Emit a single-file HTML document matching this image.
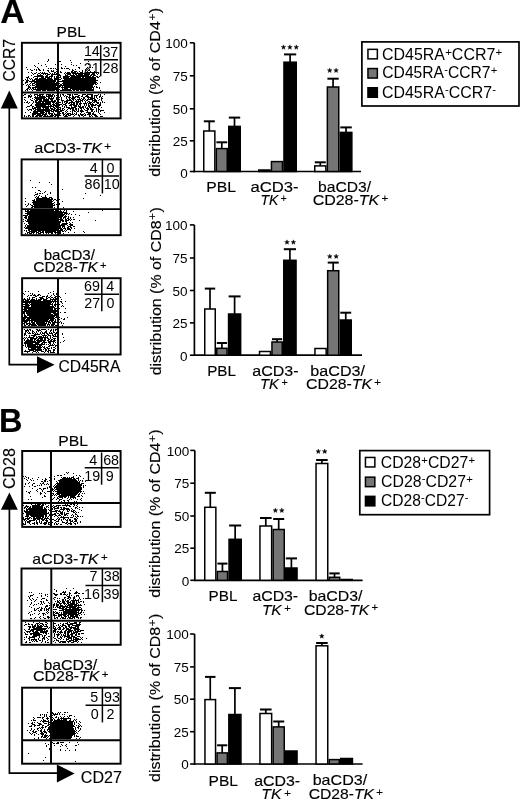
<!DOCTYPE html>
<html><head><meta charset="utf-8"><style>
html,body{margin:0;padding:0;background:#fff;width:520px;height:800px;overflow:hidden}
svg{display:block;filter:grayscale(1)}
text{font-family:"Liberation Sans", sans-serif;fill:#000;stroke:#000;stroke-width:0.15px}
.ns{stroke-width:0}
.d{stroke:#000;stroke-width:1px;fill:none;shape-rendering:crispEdges;transform:translateY(0.5px)}
</style></head><body>
<svg width="520" height="800" viewBox="0 0 520 800">
<defs><filter id="bl" x="-5%" y="-5%" width="110%" height="110%"><feGaussianBlur stdDeviation="0.45"/></filter></defs>
<text x="0.3" y="22.9" font-size="34" text-anchor="start" font-weight="bold" >A</text>
<text x="-1.0" y="431.6" font-size="32.5" text-anchor="start" font-weight="bold" >B</text>
<path class="d" filter="url(#bl)" d="M48 59h1M48 60h1M70 60h1M47 61h1M59 61h2M88 61h1M71 62h1M38 63h1M80 63h1M45 64h1M55 64h1M61 64h1M71 64h1M88 64h1M34 65h1M41 65h1M73 65h1M76 65h1M35 66h1M46 66h1M65 66h1M26 67h1M37 67h1M61 67h1M78 67h2M87 67h1M90 67h1M92 67h1M38 68h1M48 68h1M50 68h2M53 68h1M55 68h1M61 68h2M64 68h1M66 68h3M79 68h1M86 68h1M27 69h1M30 69h1M34 69h1M36 69h1M38 69h2M43 69h1M56 69h1M69 69h1M72 69h1M75 69h1M85 69h1M89 69h1M31 70h2M36 70h1M39 70h2M43 70h1M47 70h2M51 70h1M53 70h1M72 70h2M82 70h1M85 70h1M88 70h2M48 71h1M51 71h3M56 71h1M60 71h1M71 71h2M74 71h3M79 71h1M82 71h1M87 71h1M90 71h1M94 71h1M28 72h1M31 72h1M36 72h1M40 72h1M42 72h1M44 72h1M49 72h1M54 72h2M60 72h2M65 72h1M67 72h3M71 72h5M77 72h1M80 72h3M87 72h7M32 73h1M34 73h2M38 73h2M41 73h7M50 73h1M52 73h1M54 73h1M56 73h1M64 73h1M66 73h5M72 73h18M92 73h3M96 73h1M98 73h1M33 74h1M37 74h1M40 74h1M43 74h1M45 74h1M47 74h3M51 74h6M59 74h1M65 74h1M67 74h4M73 74h1M75 74h2M78 74h5M84 74h6M91 74h4M97 74h1M31 75h1M37 75h6M46 75h2M51 75h2M59 75h2M65 75h3M70 75h5M76 75h13M90 75h2M93 75h3M28 76h1M34 76h10M45 76h3M49 76h4M54 76h1M56 76h1M60 76h1M63 76h7M71 76h20M92 76h2M96 76h2M99 76h1M26 77h3M33 77h1M37 77h1M41 77h3M45 77h5M51 77h1M54 77h1M56 77h1M59 77h2M63 77h6M70 77h11M82 77h2M85 77h11M97 77h2M27 78h1M29 78h1M31 78h1M35 78h3M39 78h7M47 78h5M54 78h3M61 78h1M63 78h33M25 79h1M27 79h1M30 79h1M32 79h1M34 79h19M54 79h3M59 79h2M64 79h32M23 80h1M26 80h3M32 80h3M36 80h20M62 80h36M26 81h2M29 81h27M59 81h37M25 82h3M31 82h1M34 82h21M56 82h1M63 82h34M100 82h1M25 83h1M30 83h1M32 83h3M36 83h21M59 83h1M62 83h34M97 83h1M23 84h1M27 84h1M29 84h1M32 84h1M35 84h22M60 84h2M63 84h31M95 84h2M26 85h1M28 85h1M30 85h1M32 85h3M36 85h21M59 85h34M28 86h2M35 86h21M59 86h2M62 86h1M64 86h29M94 86h1M96 86h1M28 87h3M32 87h25M59 87h1M61 87h33M96 87h2M99 87h1M27 88h2M30 88h1M32 88h2M35 88h1M37 88h20M62 88h1M64 88h4M70 88h22M93 88h1M99 88h1M26 89h2M29 89h1M31 89h1M33 89h24M59 89h1M62 89h9M72 89h22M25 90h1M27 90h1M32 90h1M36 90h5M42 90h4M47 90h8M56 90h1M60 90h12M73 90h2M76 90h3M80 90h5M86 90h8M100 90h1M24 94h2M30 94h1M34 94h4M39 94h5M46 94h5M52 94h2M60 94h1M62 94h2M67 94h4M72 94h1M74 94h4M82 94h4M87 94h6M98 94h1M100 94h1M104 94h1M23 95h1M28 95h2M31 95h1M34 95h1M37 95h4M42 95h1M46 95h1M48 95h5M54 95h1M56 95h1M60 95h1M63 95h1M65 95h1M69 95h2M72 95h1M78 95h2M82 95h1M86 95h2M91 95h2M94 95h4M100 95h1M28 96h4M35 96h1M37 96h1M39 96h6M46 96h7M54 96h1M60 96h1M64 96h1M66 96h2M69 96h1M72 96h2M75 96h4M81 96h2M85 96h4M91 96h2M94 96h1M96 96h1M99 96h2M102 96h1M24 97h2M28 97h1M30 97h1M34 97h12M48 97h2M51 97h1M53 97h1M56 97h1M59 97h1M61 97h1M66 97h1M68 97h3M72 97h4M77 97h3M83 97h2M87 97h6M94 97h1M96 97h1M99 97h1M101 97h1M32 98h1M35 98h10M46 98h1M48 98h6M56 98h1M61 98h1M66 98h1M69 98h1M71 98h4M79 98h1M81 98h1M83 98h2M88 98h1M90 98h5M97 98h1M101 98h2M24 99h1M30 99h1M34 99h1M36 99h6M43 99h6M50 99h3M56 99h1M59 99h1M61 99h1M67 99h1M69 99h2M72 99h2M75 99h1M77 99h4M82 99h2M85 99h1M87 99h6M94 99h2M99 99h1M101 99h1M25 100h1M31 100h2M35 100h3M39 100h3M43 100h6M51 100h2M54 100h2M61 100h3M66 100h6M73 100h1M76 100h1M78 100h1M80 100h3M84 100h1M86 100h2M92 100h5M98 100h1M101 100h1M27 101h1M33 101h1M35 101h2M38 101h18M62 101h1M64 101h4M71 101h2M75 101h6M82 101h1M85 101h1M88 101h2M92 101h1M94 101h3M102 101h1M24 102h1M26 102h2M29 102h1M33 102h1M35 102h6M42 102h2M45 102h6M52 102h3M56 102h1M59 102h2M62 102h1M64 102h1M66 102h2M69 102h6M76 102h3M80 102h1M85 102h1M87 102h1M89 102h3M93 102h2M96 102h3M100 102h1M102 102h1M104 102h1M28 103h1M32 103h1M36 103h15M53 103h1M55 103h2M62 103h1M65 103h2M68 103h2M71 103h1M73 103h2M76 103h2M79 103h3M83 103h4M88 103h3M92 103h1M97 103h2M100 103h1M31 104h1M35 104h16M52 104h3M56 104h1M59 104h3M63 104h3M70 104h5M76 104h2M79 104h2M84 104h1M86 104h1M88 104h1M90 104h4M95 104h2M99 104h2M30 105h2M35 105h11M48 105h1M50 105h2M53 105h4M59 105h1M62 105h1M65 105h2M69 105h3M73 105h4M78 105h1M80 105h1M84 105h1M86 105h1M88 105h2M91 105h5M97 105h4M27 106h3M32 106h2M36 106h18M55 106h2M62 106h1M64 106h1M66 106h1M71 106h1M74 106h3M78 106h3M82 106h2M85 106h1M88 106h2M91 106h2M98 106h2M26 107h1M32 107h1M34 107h7M42 107h7M50 107h1M53 107h2M56 107h1M59 107h2M64 107h1M66 107h4M71 107h5M79 107h5M85 107h1M87 107h1M89 107h2M92 107h1M94 107h2M98 107h1M101 107h1M32 108h4M37 108h4M43 108h1M45 108h4M50 108h3M54 108h2M60 108h1M62 108h2M68 108h6M75 108h2M78 108h1M80 108h2M83 108h1M86 108h3M90 108h2M96 108h1M98 108h1M27 109h1M29 109h3M33 109h1M35 109h15M51 109h4M56 109h1M59 109h2M62 109h1M64 109h1M67 109h1M70 109h1M72 109h2M75 109h2M78 109h1M81 109h1M84 109h1M87 109h2M90 109h4M96 109h1M98 109h2M28 110h1M31 110h1M34 110h2M37 110h15M53 110h4M60 110h4M66 110h1M72 110h3M76 110h1M78 110h1M80 110h3M85 110h3M91 110h2M96 110h1M98 110h1M100 110h4M33 111h11M45 111h5M51 111h3M55 111h2M59 111h3M65 111h1M67 111h1M70 111h1M72 111h1M74 111h2M77 111h2M80 111h4M87 111h1M91 111h2M94 111h1M96 111h1M98 111h1M100 111h1M25 112h1M30 112h1M33 112h5M40 112h5M46 112h1M48 112h2M53 112h1M59 112h1M62 112h2M66 112h1M72 112h1M76 112h1M81 112h1M86 112h5M93 112h1M98 112h1M104 112h1M32 113h12M45 113h2M48 113h5M54 113h1M59 113h2M62 113h2M65 113h1M67 113h4M72 113h1M74 113h1M76 113h1M80 113h1M84 113h1M88 113h3M92 113h2M99 113h1M32 114h4M37 114h4M42 114h5M49 114h1M51 114h2M54 114h3M59 114h1M63 114h2M66 114h3M70 114h4M75 114h2M78 114h1M80 114h4M85 114h1M87 114h4M92 114h4M100 114h1M24 115h1M28 115h2M32 115h2M36 115h7M44 115h2M47 115h1M50 115h4M55 115h2M59 115h2M63 115h1M65 115h2M68 115h3M74 115h1M78 115h2M81 115h2M84 115h2M89 115h1M91 115h1M94 115h3M24 116h1M26 116h1M28 116h1M30 116h1M32 116h2M35 116h3M39 116h3M43 116h10M54 116h2M64 116h4M73 116h1M79 116h1M83 116h1M89 116h2M92 116h1M95 116h3M100 116h3"/>
<rect x="21.9" y="42.8" width="98.70" height="75.60" fill="none" stroke="#000" stroke-width="1.95"/>
<line x1="58" y1="42.8" x2="58" y2="118.4" stroke="#000" stroke-width="1.95"/>
<line x1="21.9" y1="92.4" x2="120.6" y2="92.4" stroke="#000" stroke-width="1.95"/>
<line x1="100.7" y1="45" x2="100.7" y2="76.3" stroke="#000" stroke-width="1.5"/>
<line x1="84" y1="59.8" x2="118" y2="59.8" stroke="#000" stroke-width="1.5"/>
<path class="d" filter="url(#bl)" d="M30 180h1M39 182h1M49 182h1M51 184h1M32 187h1M35 187h1M62 189h1M38 190h2M40 191h1M45 191h1M35 192h1M44 192h1M50 192h1M37 193h1M39 193h2M42 193h1M50 193h1M85 193h1M35 194h3M47 194h1M34 195h1M39 195h1M45 195h1M100 195h1M36 196h1M38 196h1M41 196h1M45 196h1M35 197h1M37 197h2M42 197h5M49 197h3M25 198h1M36 198h14M51 198h2M83 198h1M34 199h1M36 199h17M54 199h2M59 199h1M32 200h3M36 200h16M53 200h1M56 200h1M25 201h1M33 201h20M62 201h1M32 202h20M54 202h1M28 203h1M33 203h21M59 203h1M25 204h1M28 204h1M30 204h1M33 204h20M54 204h1M56 204h1M59 204h1M27 205h1M31 205h2M34 205h21M26 206h1M32 206h21M31 207h2M34 207h19M54 207h1M63 207h1M25 210h1M27 210h2M30 210h24M55 210h2M60 210h1M64 210h1M66 210h1M102 210h1M25 211h32M59 211h3M63 211h1M66 211h1M73 211h1M27 212h30M59 212h8M88 212h1M25 213h32M59 213h4M64 213h4M69 213h1M27 214h30M59 214h6M66 214h1M68 214h1M71 214h1M75 214h1M23 215h5M29 215h28M59 215h5M65 215h1M79 215h1M25 216h2M28 216h29M59 216h4M64 216h3M68 216h1M24 217h3M28 217h29M59 217h3M63 217h3M68 217h1M70 217h1M73 217h1M25 218h2M28 218h29M60 218h2M63 218h1M65 218h1M67 218h2M70 218h1M23 219h1M27 219h30M59 219h4M65 219h2M68 219h2M71 219h1M73 219h2M25 220h1M27 220h30M60 220h4M65 220h4M70 220h1M79 220h1M95 220h1M23 221h1M26 221h31M59 221h2M62 221h2M65 221h2M28 222h29M59 222h2M66 222h1M69 222h1M72 222h1M24 223h1M28 223h29M59 223h1M62 223h6M70 223h1M26 224h1M29 224h28M59 224h1M61 224h6M69 224h4M25 225h1M27 225h30M59 225h6M67 225h1M70 225h3M25 226h1M27 226h30M59 226h2M62 226h3M68 226h3M73 226h2M24 227h1M26 227h31M59 227h2M62 227h1M64 227h1M67 227h2M70 227h2M25 228h32M59 228h3M63 228h3M67 228h3M71 228h1M74 228h1M28 229h29M60 229h3M65 229h1M67 229h4M24 230h1M26 230h1M28 230h2M31 230h26M59 230h4M64 230h1M66 230h1M70 230h1M26 231h1M29 231h8M38 231h3M42 231h2M45 231h11M59 231h2M62 231h2M65 231h1M83 231h1M27 232h3M31 232h4M36 232h3M40 232h4M45 232h8M54 232h3M59 232h2M68 232h1M74 232h1M84 232h1M25 233h1M27 233h1M29 233h3M33 233h1M36 233h1M38 233h3M43 233h1M46 233h1M48 233h1M51 233h2M55 233h1M59 233h2M63 233h1"/>
<rect x="21.6" y="159.4" width="99.10" height="75.80" fill="none" stroke="#000" stroke-width="1.95"/>
<line x1="58" y1="159.4" x2="58" y2="235.2" stroke="#000" stroke-width="1.95"/>
<line x1="21.6" y1="209.1" x2="120.7" y2="209.1" stroke="#000" stroke-width="1.95"/>
<line x1="102.4" y1="160" x2="102.4" y2="193.4" stroke="#000" stroke-width="1.5"/>
<line x1="84.6" y1="176" x2="119" y2="176" stroke="#000" stroke-width="1.5"/>
<path class="d" filter="url(#bl)" d="M25 291h1M28 291h1M38 291h1M53 291h1M50 292h1M23 293h1M30 293h1M32 293h1M48 293h1M53 293h1M56 293h1M65 293h1M24 294h1M32 294h1M34 294h1M38 294h2M53 294h1M56 294h1M28 295h1M30 295h2M33 295h3M37 295h2M40 295h1M47 295h1M51 295h1M54 295h1M27 296h1M35 296h2M42 296h3M46 296h2M50 296h1M55 296h2M59 296h1M29 297h1M32 297h3M39 297h4M46 297h1M48 297h2M51 297h2M54 297h2M60 297h1M24 298h1M27 298h1M29 298h1M32 298h1M36 298h1M40 298h4M46 298h2M50 298h1M53 298h1M55 298h2M23 299h3M27 299h3M31 299h4M36 299h1M38 299h4M43 299h4M50 299h7M61 299h1M23 300h1M25 300h4M30 300h11M43 300h8M52 300h1M54 300h2M23 301h34M60 301h2M65 301h1M23 302h29M53 302h1M55 302h1M61 302h1M25 303h3M29 303h1M31 303h20M52 303h1M55 303h1M62 303h1M23 304h6M30 304h23M54 304h3M59 304h1M25 305h5M31 305h19M52 305h1M54 305h2M62 305h1M23 306h6M31 306h23M55 306h1M61 306h1M63 306h1M24 307h31M24 308h29M54 308h3M59 308h1M65 308h1M23 309h4M28 309h25M54 309h2M24 310h33M23 311h34M23 312h2M26 312h30M60 312h1M64 312h2M23 313h2M26 313h25M53 313h4M24 314h1M27 314h26M54 314h3M24 315h2M27 315h30M24 316h3M29 316h26M56 316h1M23 317h31M55 317h2M59 317h1M67 317h1M23 318h3M27 318h28M61 318h1M64 318h1M23 319h2M26 319h4M31 319h18M50 319h4M55 319h1M59 319h1M63 319h2M23 320h25M49 320h5M55 320h1M23 321h5M29 321h1M31 321h2M34 321h16M51 321h2M54 321h2M60 321h1M24 322h3M29 322h1M31 322h4M36 322h9M46 322h1M48 322h3M52 322h5M59 322h1M61 322h1M23 323h2M26 323h5M32 323h3M36 323h11M48 323h1M50 323h1M52 323h3M61 323h1M63 323h1M24 324h1M26 324h2M29 324h7M37 324h9M47 324h3M51 324h4M24 325h2M28 325h2M31 325h6M38 325h8M47 325h1M49 325h1M51 325h3M55 325h2M62 325h1M24 329h1M27 329h1M29 329h2M36 329h2M39 329h1M41 329h5M48 329h1M51 329h1M53 329h1M55 329h2M25 330h4M30 330h1M32 330h1M37 330h4M46 330h1M50 330h2M53 330h1M55 330h1M25 331h2M28 331h1M32 331h2M36 331h1M38 331h1M41 331h1M45 331h2M50 331h1M53 331h1M25 332h1M27 332h1M29 332h1M32 332h1M34 332h1M36 332h1M40 332h1M42 332h1M44 332h3M49 332h1M51 332h1M53 332h2M56 332h1M24 333h2M28 333h3M32 333h2M35 333h1M37 333h1M40 333h1M42 333h3M46 333h2M49 333h4M55 333h2M62 333h1M24 334h2M34 334h6M41 334h1M44 334h1M47 334h2M52 334h1M54 334h2M62 334h1M24 335h1M26 335h1M29 335h1M31 335h5M42 335h5M48 335h3M52 335h2M55 335h1M29 336h1M33 336h2M36 336h1M38 336h4M43 336h1M45 336h1M47 336h1M50 336h1M53 336h4M24 337h1M26 337h1M28 337h6M36 337h2M39 337h9M50 337h1M52 337h1M63 337h1M23 338h1M25 338h1M27 338h1M30 338h7M38 338h5M44 338h2M47 338h2M50 338h1M53 338h3M24 339h1M27 339h2M30 339h3M34 339h2M37 339h2M40 339h3M44 339h2M48 339h2M51 339h2M54 339h1M24 340h1M26 340h7M34 340h1M36 340h10M47 340h2M50 340h2M53 340h3M64 340h1M25 341h11M37 341h5M43 341h2M48 341h7M63 341h1M24 342h16M42 342h5M48 342h3M53 342h1M55 342h1M60 342h1M24 343h9M35 343h4M41 343h2M44 343h1M49 343h2M53 343h1M25 344h1M27 344h18M46 344h1M48 344h1M50 344h1M52 344h1M54 344h1M23 345h1M25 345h1M27 345h9M37 345h1M39 345h3M49 345h5M55 345h2M25 346h1M27 346h14M42 346h1M44 346h1M48 346h2M55 346h1M26 347h1M28 347h14M43 347h2M46 347h2M51 347h1M53 347h2M28 348h1M31 348h5M37 348h4M44 348h2M47 348h3M51 348h1M55 348h1M28 349h14M43 349h1M45 349h2M48 349h1M53 349h2M25 350h1M29 350h5M35 350h7M45 350h2M48 350h3M53 350h2M24 351h6M33 351h3M37 351h1M41 351h3M45 351h1M47 351h2M50 351h1M53 351h1M27 352h1M32 352h1M36 352h1M38 352h1M44 352h1M48 352h1M50 352h5"/>
<rect x="22.1" y="278.2" width="98.50" height="76.30" fill="none" stroke="#000" stroke-width="1.95"/>
<line x1="58" y1="278.2" x2="58" y2="354.5" stroke="#000" stroke-width="1.95"/>
<line x1="22.1" y1="327.2" x2="120.6" y2="327.2" stroke="#000" stroke-width="1.95"/>
<line x1="101.8" y1="279" x2="101.8" y2="311.3" stroke="#000" stroke-width="1.5"/>
<line x1="84.6" y1="294.2" x2="119" y2="294.2" stroke="#000" stroke-width="1.5"/>
<path d="M9.3 108V364.7H38" fill="none" stroke="#000" stroke-width="1.7"/>
<path d="M0.8 108.6L9.3 90.4L17.8 108.6Z" fill="#000"/>
<path d="M37 356.2L54.6 364.7L37 373.3Z" fill="#000"/>
<path class="d" filter="url(#bl)" d="M66 472h1M68 472h1M67 473h1M73 473h1M64 474h1M57 475h2M60 475h2M76 475h1M79 475h1M23 476h1M25 476h1M54 476h1M73 476h1M80 476h1M26 477h1M28 477h1M38 477h1M49 477h1M61 477h1M63 477h3M67 477h1M69 477h1M71 477h3M78 477h1M24 478h1M28 478h1M32 478h1M45 478h1M54 478h1M62 478h10M73 478h2M76 478h3M83 478h1M26 479h1M30 479h1M37 479h1M42 479h1M45 479h2M54 479h1M60 479h16M78 479h1M27 480h1M31 480h1M33 480h1M44 480h2M49 480h1M58 480h19M78 480h1M80 480h1M82 480h1M41 481h2M44 481h2M47 481h1M56 481h1M59 481h19M79 481h1M82 481h1M85 481h1M29 482h1M43 482h1M57 482h1M59 482h21M25 483h1M28 483h1M33 483h2M40 483h1M42 483h2M47 483h1M56 483h24M81 483h3M25 484h1M32 484h1M41 484h1M44 484h1M46 484h1M48 484h1M55 484h1M57 484h25M32 485h1M37 485h1M39 485h1M41 485h1M54 485h1M56 485h26M83 485h1M85 485h1M24 486h1M29 486h1M34 486h2M49 486h1M53 486h1M55 486h26M83 486h1M47 487h1M49 487h1M54 487h28M83 487h1M32 488h1M39 488h2M43 488h3M47 488h1M52 488h1M54 488h1M56 488h26M37 489h1M41 489h1M43 489h1M52 489h2M55 489h27M36 490h1M42 490h1M52 490h1M54 490h1M57 490h24M26 491h1M30 491h1M37 491h1M42 491h1M47 491h3M53 491h1M55 491h27M83 491h1M28 492h2M40 492h1M44 492h1M57 492h22M80 492h1M29 493h1M40 493h2M45 493h1M52 493h2M56 493h22M79 493h1M82 493h1M84 493h1M40 494h1M53 494h1M55 494h1M57 494h3M61 494h16M78 494h2M44 495h1M52 495h1M54 495h1M56 495h1M59 495h17M78 495h1M81 495h1M30 496h1M44 496h2M58 496h9M68 496h1M70 496h5M77 496h3M82 496h1M42 497h1M54 497h1M57 497h1M59 497h4M64 497h2M68 497h1M70 497h6M53 498h1M57 498h2M62 498h1M67 498h1M70 498h1M73 498h1M75 498h1M81 498h1M28 499h1M31 499h1M52 499h1M56 499h1M59 499h3M69 499h1M71 499h1M77 499h1M80 499h1M59 500h1M63 500h2M67 500h2M81 500h1M58 501h1M61 501h1M64 501h1M68 501h1M74 501h1M76 501h1M31 504h1M35 504h1M37 504h4M42 504h2M45 504h1M65 504h1M67 504h1M70 504h2M73 504h2M77 504h1M23 505h1M26 505h1M32 505h8M41 505h3M48 505h1M53 505h1M56 505h5M62 505h8M74 505h1M76 505h1M25 506h4M30 506h1M32 506h11M46 506h2M52 506h1M54 506h3M58 506h1M66 506h1M69 506h2M73 506h1M77 506h1M24 507h2M27 507h1M29 507h2M32 507h11M44 507h1M46 507h1M48 507h1M53 507h2M57 507h2M60 507h2M63 507h2M75 507h2M79 507h1M82 507h1M24 508h1M26 508h1M28 508h15M44 508h2M52 508h1M54 508h5M61 508h1M63 508h6M71 508h1M75 508h1M77 508h1M26 509h21M48 509h1M52 509h1M54 509h1M60 509h5M66 509h4M72 509h1M79 509h1M24 510h1M26 510h2M29 510h18M49 510h1M55 510h3M59 510h1M63 510h1M67 510h1M69 510h1M71 510h1M73 510h2M81 510h1M24 511h23M52 511h5M58 511h3M62 511h1M67 511h2M71 511h3M75 511h1M25 512h22M48 512h1M56 512h1M60 512h3M64 512h1M73 512h2M76 512h1M78 512h1M23 513h1M26 513h23M54 513h2M57 513h2M60 513h3M64 513h1M66 513h3M75 513h1M26 514h21M49 514h1M52 514h4M59 514h1M61 514h2M64 514h3M72 514h1M75 514h2M26 515h3M30 515h14M45 515h2M49 515h1M52 515h1M55 515h2M58 515h3M64 515h2M67 515h1M71 515h1M73 515h1M77 515h1M25 516h4M31 516h13M45 516h2M48 516h1M54 516h1M57 516h1M61 516h1M63 516h1M73 516h1M75 516h1M77 516h2M80 516h1M82 516h1M23 517h1M27 517h1M29 517h2M33 517h2M36 517h5M42 517h2M45 517h1M47 517h1M58 517h1M60 517h9M70 517h3M76 517h1M23 518h1M25 518h5M31 518h1M33 518h10M44 518h5M57 518h1M59 518h1M63 518h2M68 518h1M74 518h2M77 518h1M23 519h3M27 519h2M33 519h3M37 519h3M41 519h4M46 519h1M49 519h1M52 519h2M56 519h1M58 519h2M61 519h1M63 519h1M65 519h1M67 519h1M69 519h2M74 519h3M24 520h1M26 520h1M29 520h6M36 520h1M39 520h1M42 520h2M45 520h3M54 520h2M58 520h1M61 520h1M66 520h2M69 520h2M72 520h1M75 520h2M25 521h1M27 521h4M36 521h1M39 521h1M41 521h1M46 521h2M56 521h3M62 521h1M67 521h1M70 521h3M74 521h3M80 521h1M25 522h1M27 522h3M34 522h1M36 522h2M39 522h1M41 522h1M44 522h3M48 522h2M52 522h1M55 522h1M62 522h3M66 522h2M70 522h1M73 522h1M77 522h1M80 522h1M23 523h1M25 523h1M29 523h1M32 523h3M36 523h2M40 523h2M43 523h4M48 523h1M54 523h1M56 523h1M58 523h1M65 523h2M68 523h4M74 523h2M77 523h1M23 524h3M30 524h1M34 524h1M37 524h1M44 524h2M48 524h2M54 524h1M56 524h2M60 524h2M67 524h1M70 524h2M75 524h1"/>
<rect x="22.2" y="451.0" width="98.40" height="75.90" fill="none" stroke="#000" stroke-width="1.95"/>
<line x1="51" y1="451.0" x2="51" y2="526.9" stroke="#000" stroke-width="1.95"/>
<line x1="22.2" y1="503" x2="120.6" y2="503" stroke="#000" stroke-width="1.95"/>
<line x1="101.6" y1="452.5" x2="101.6" y2="484.7" stroke="#000" stroke-width="1.5"/>
<line x1="84.7" y1="467.8" x2="118.9" y2="467.8" stroke="#000" stroke-width="1.5"/>
<path class="d" filter="url(#bl)" d="M66 588h1M73 588h1M54 589h1M56 590h1M70 590h1M56 591h1M63 591h1M65 591h1M76 591h1M29 592h1M31 592h1M62 592h4M69 592h1M75 592h3M39 593h1M41 593h1M53 593h2M60 593h2M64 593h1M69 593h2M74 593h3M78 593h2M82 593h2M33 594h1M45 594h1M47 594h1M54 594h4M60 594h2M63 594h3M67 594h1M69 594h1M30 595h3M41 595h1M45 595h1M55 595h2M66 595h1M69 595h1M71 595h1M76 595h3M28 596h1M30 596h1M41 596h1M47 596h1M67 596h3M74 596h1M76 596h1M78 596h1M29 597h1M37 597h1M54 597h2M64 597h2M68 597h3M73 597h2M79 597h1M29 598h1M32 598h1M42 598h3M53 598h1M57 598h1M59 598h1M64 598h1M67 598h2M70 598h1M73 598h2M79 598h1M83 598h1M30 599h1M33 599h1M36 599h1M41 599h1M46 599h1M54 599h1M62 599h2M65 599h1M69 599h1M73 599h1M75 599h1M78 599h1M80 599h1M27 600h1M31 600h1M35 600h1M46 600h2M57 600h1M59 600h1M62 600h2M65 600h1M67 600h2M71 600h8M34 601h1M40 601h2M43 601h1M55 601h1M57 601h2M60 601h1M62 601h3M66 601h3M70 601h1M72 601h3M76 601h1M78 601h1M80 601h2M83 601h1M31 602h1M41 602h1M43 602h1M48 602h1M57 602h3M62 602h3M67 602h4M72 602h3M76 602h1M78 602h2M83 602h1M31 603h1M38 603h1M41 603h1M44 603h1M49 603h1M54 603h1M56 603h1M59 603h3M63 603h3M67 603h2M70 603h5M76 603h2M30 604h1M34 604h1M36 604h1M40 604h1M42 604h1M53 604h2M56 604h3M60 604h1M64 604h1M66 604h1M68 604h9M78 604h1M80 604h1M84 604h1M33 605h1M46 605h2M49 605h1M53 605h2M56 605h3M60 605h3M65 605h1M67 605h6M74 605h8M29 606h1M45 606h3M53 606h1M56 606h2M59 606h9M69 606h8M78 606h1M31 607h1M39 607h1M41 607h1M45 607h1M49 607h1M53 607h1M55 607h1M57 607h4M62 607h3M66 607h10M77 607h4M34 608h1M37 608h2M41 608h2M44 608h1M46 608h1M48 608h2M59 608h5M65 608h2M69 608h2M72 608h7M81 608h1M34 609h1M36 609h1M40 609h2M44 609h1M46 609h3M53 609h4M62 609h20M34 610h2M38 610h1M40 610h2M44 610h1M46 610h1M48 610h1M59 610h5M65 610h15M81 610h2M84 610h1M31 611h1M39 611h1M47 611h1M53 611h1M55 611h1M63 611h14M78 611h1M81 611h1M29 612h1M46 612h1M48 612h1M53 612h2M56 612h2M59 612h1M61 612h1M63 612h16M80 612h2M83 612h1M28 613h1M34 613h1M39 613h1M42 613h3M47 613h1M53 613h1M55 613h4M61 613h1M63 613h14M78 613h3M30 614h1M32 614h1M38 614h1M43 614h1M45 614h1M53 614h2M58 614h9M68 614h11M81 614h1M84 614h1M30 615h1M43 615h1M53 615h4M58 615h4M63 615h3M67 615h2M70 615h4M75 615h3M79 615h1M40 616h1M47 616h2M54 616h1M58 616h2M61 616h1M64 616h3M68 616h1M70 616h8M35 617h1M39 617h1M43 617h1M47 617h3M54 617h1M56 617h2M61 617h3M65 617h1M68 617h3M72 617h3M76 617h3M80 617h2M30 618h2M34 618h1M40 618h1M44 618h2M48 618h1M54 618h2M57 618h1M60 618h1M62 618h4M67 618h1M69 618h4M74 618h1M78 618h1M80 618h1M25 622h1M33 622h1M39 622h1M45 622h2M53 622h1M67 622h1M69 622h1M74 622h3M79 622h2M28 623h1M36 623h3M40 623h3M47 623h1M53 623h3M60 623h1M63 623h1M65 623h3M70 623h7M79 623h1M25 624h2M28 624h2M31 624h2M35 624h1M37 624h1M39 624h1M42 624h2M45 624h2M53 624h1M58 624h1M62 624h2M67 624h6M76 624h5M24 625h1M32 625h1M34 625h2M37 625h2M40 625h2M43 625h1M46 625h1M53 625h1M56 625h1M58 625h1M60 625h1M62 625h4M68 625h2M72 625h8M28 626h3M32 626h4M37 626h6M44 626h4M53 626h2M59 626h1M61 626h2M65 626h2M68 626h2M71 626h1M75 626h4M29 627h2M32 627h3M36 627h6M47 627h1M49 627h1M53 627h1M55 627h1M58 627h3M63 627h1M65 627h2M69 627h7M77 627h2M29 628h1M33 628h14M48 628h1M53 628h3M57 628h1M59 628h2M63 628h2M66 628h3M70 628h2M73 628h6M24 629h1M28 629h2M31 629h15M54 629h3M58 629h3M62 629h2M66 629h5M74 629h6M25 630h1M30 630h4M36 630h7M44 630h1M46 630h2M53 630h3M61 630h1M65 630h2M68 630h5M74 630h2M77 630h2M80 630h4M26 631h5M32 631h2M35 631h3M40 631h8M53 631h3M57 631h2M60 631h2M64 631h2M67 631h5M73 631h1M75 631h6M24 632h1M27 632h1M29 632h1M33 632h6M40 632h7M53 632h1M55 632h1M57 632h1M59 632h4M64 632h2M67 632h3M71 632h1M73 632h5M25 633h1M30 633h10M43 633h1M45 633h2M48 633h1M54 633h1M58 633h1M60 633h1M64 633h2M67 633h2M71 633h4M76 633h1M78 633h2M81 633h3M25 634h3M30 634h2M33 634h9M46 634h1M54 634h1M56 634h4M61 634h1M63 634h1M65 634h1M67 634h2M70 634h3M75 634h2M78 634h2M33 635h7M42 635h1M44 635h2M54 635h1M57 635h2M61 635h1M63 635h3M67 635h3M71 635h2M75 635h2M26 636h1M29 636h1M32 636h5M39 636h1M42 636h1M44 636h1M48 636h2M54 636h1M57 636h1M60 636h1M62 636h1M64 636h6M71 636h4M77 636h3M24 637h1M26 637h1M29 637h6M39 637h1M43 637h2M46 637h1M53 637h1M57 637h1M60 637h2M64 637h1M67 637h5M73 637h4M80 637h1M82 637h1M28 638h2M34 638h1M38 638h1M42 638h3M47 638h1M54 638h2M58 638h2M61 638h1M66 638h1M68 638h4M73 638h1M75 638h4M81 638h1M86 638h1M24 639h1M29 639h1M31 639h6M38 639h1M42 639h1M44 639h1M48 639h1M56 639h1M60 639h1M63 639h1M66 639h3M71 639h1M73 639h8M82 639h1M29 640h1M31 640h1M33 640h1M35 640h2M39 640h2M42 640h1M47 640h1M54 640h1M56 640h3M66 640h1M69 640h5M75 640h3M26 641h1M32 641h1M34 641h1M36 641h2M42 641h1M45 641h1M53 641h1M58 641h1M60 641h6M67 641h4M73 641h4M78 641h1M25 642h2M29 642h2M41 642h1M45 642h1M47 642h2M55 642h1M59 642h2M62 642h4M68 642h1M71 642h3M77 642h1M81 642h1"/>
<rect x="21.5" y="568.5" width="99.20" height="76.30" fill="none" stroke="#000" stroke-width="1.95"/>
<line x1="51.3" y1="568.5" x2="51.3" y2="644.8" stroke="#000" stroke-width="1.95"/>
<line x1="21.5" y1="620.8" x2="120.7" y2="620.8" stroke="#000" stroke-width="1.95"/>
<line x1="102.4" y1="569" x2="102.4" y2="602.2" stroke="#000" stroke-width="1.5"/>
<line x1="85.5" y1="585.6" x2="119.8" y2="585.6" stroke="#000" stroke-width="1.5"/>
<path class="d" filter="url(#bl)" d="M47 712h1M52 712h1M58 712h1M60 712h1M64 712h2M67 712h1M52 713h2M55 713h1M57 713h1M59 713h1M40 714h1M42 714h1M44 714h1M46 714h1M53 714h5M59 714h1M62 714h1M64 714h1M40 715h1M44 715h1M46 715h1M52 715h1M54 715h1M69 715h3M44 716h1M46 716h1M49 716h1M56 716h1M60 716h1M64 716h1M67 716h1M69 716h1M74 716h1M33 717h1M37 717h4M42 717h2M47 717h1M52 717h1M55 717h2M58 717h1M61 717h1M63 717h1M68 717h1M34 718h1M42 718h1M46 718h3M53 718h1M58 718h1M60 718h11M33 719h1M43 719h1M47 719h1M52 719h1M54 719h1M57 719h3M61 719h1M63 719h4M70 719h1M74 719h1M76 719h1M31 720h1M33 720h3M41 720h1M43 720h3M48 720h1M52 720h1M54 720h13M69 720h2M73 720h1M75 720h1M40 721h1M42 721h7M53 721h21M76 721h1M79 721h1M32 722h1M34 722h1M37 722h1M43 722h1M48 722h2M52 722h21M74 722h1M76 722h1M80 722h1M28 723h1M31 723h2M38 723h3M44 723h3M48 723h1M52 723h21M74 723h1M78 723h1M32 724h3M39 724h3M48 724h2M52 724h21M74 724h1M79 724h1M31 725h1M34 725h2M37 725h3M42 725h2M47 725h2M52 725h22M76 725h1M78 725h1M80 725h1M29 726h3M34 726h1M42 726h1M45 726h2M49 726h1M52 726h23M78 726h2M81 726h1M39 727h1M41 727h3M45 727h1M48 727h2M52 727h21M75 727h1M77 727h2M31 728h1M37 728h2M40 728h1M42 728h1M48 728h2M52 728h22M75 728h1M78 728h1M80 728h1M31 729h1M34 729h1M37 729h1M41 729h1M44 729h1M47 729h3M52 729h22M75 729h1M80 729h1M27 730h1M30 730h1M33 730h1M38 730h1M40 730h2M44 730h1M47 730h1M49 730h1M52 730h23M76 730h1M79 730h1M32 731h2M35 731h2M40 731h2M43 731h3M48 731h2M52 731h24M78 731h1M29 732h1M33 732h3M41 732h2M44 732h3M49 732h1M52 732h23M76 732h1M30 733h1M32 733h1M36 733h1M40 733h4M46 733h1M52 733h24M77 733h1M31 734h1M34 734h1M38 734h1M41 734h3M45 734h1M52 734h23M34 735h1M42 735h1M44 735h4M49 735h1M52 735h21M74 735h1M76 735h1M41 736h2M44 736h3M48 736h1M52 736h20M74 736h1M76 736h3M38 737h1M41 737h1M43 737h3M47 737h1M52 737h20M80 737h1M34 738h1M38 738h1M46 738h1M49 738h1M52 738h19M76 738h1M79 738h1M52 742h1M57 742h2M60 742h4M69 742h1M77 742h1M45 743h1M53 743h2M56 743h3M48 744h1M61 744h1M66 744h1M78 744h1M46 745h1M54 745h1M62 745h1M65 745h1M75 745h2M46 746h1M60 746h1M66 746h1M49 748h1M67 748h1M49 749h1M60 749h1M75 749h1M60 750h1M65 750h1M69 750h1M75 750h1M28 753h1M45 757h1M43 760h1M75 761h1"/>
<rect x="22.1" y="687.7" width="98.50" height="76.00" fill="none" stroke="#000" stroke-width="1.95"/>
<line x1="51" y1="687.7" x2="51" y2="763.7" stroke="#000" stroke-width="1.95"/>
<line x1="22.1" y1="740.2" x2="120.6" y2="740.2" stroke="#000" stroke-width="1.95"/>
<line x1="102.4" y1="688" x2="102.4" y2="722.4" stroke="#000" stroke-width="1.5"/>
<line x1="85.6" y1="705.2" x2="119.6" y2="705.2" stroke="#000" stroke-width="1.5"/>
<path d="M9.4 509V773.2H58" fill="none" stroke="#000" stroke-width="1.7"/>
<path d="M0.9 509.8L9.4 492.5L17.8 509.8Z" fill="#000"/>
<path d="M56.9 764.5L74.6 773.4L56.9 782.4Z" fill="#000"/>
<line x1="194.3" y1="42.8" x2="194.3" y2="172.3" stroke="#000" stroke-width="1.7"/>
<line x1="193.5" y1="171.5" x2="361" y2="171.5" stroke="#000" stroke-width="1.7"/>
<line x1="189.8" y1="42.8" x2="194.3" y2="42.8" stroke="#000" stroke-width="1.6"/>
<text class="ns" x="187.85" y="48.00" font-size="13.5" text-anchor="end">100</text>
<line x1="189.8" y1="75.8" x2="194.3" y2="75.8" stroke="#000" stroke-width="1.6"/>
<text class="ns" x="187.85" y="81.00" font-size="13.5" text-anchor="end">75</text>
<line x1="189.8" y1="108.8" x2="194.3" y2="108.8" stroke="#000" stroke-width="1.6"/>
<text class="ns" x="187.85" y="114.00" font-size="13.5" text-anchor="end">50</text>
<line x1="189.8" y1="140.8" x2="194.3" y2="140.8" stroke="#000" stroke-width="1.6"/>
<text class="ns" x="187.85" y="146.00" font-size="13.5" text-anchor="end">25</text>
<line x1="189.8" y1="171.5" x2="194.3" y2="171.5" stroke="#000" stroke-width="1.6"/>
<text class="ns" x="187.85" y="178.40" font-size="13.5" text-anchor="end">0</text>
<line x1="209.3" y1="121.3" x2="209.3" y2="131" stroke="#000" stroke-width="1.7"/>
<line x1="203.8" y1="121.3" x2="214.79999999999998" y2="121.3" stroke="#000" stroke-width="2"/>
<rect x="203.75" y="131.00" width="11.10" height="40.50" fill="#fff" stroke="#000" stroke-width="1.5"/>
<line x1="221.8" y1="142.3" x2="221.8" y2="148.6" stroke="#000" stroke-width="1.7"/>
<line x1="216.4" y1="142.3" x2="227.2" y2="142.3" stroke="#000" stroke-width="2"/>
<rect x="216.35" y="148.60" width="10.90" height="22.90" fill="#757575" stroke="#000" stroke-width="1.5"/>
<line x1="234.5" y1="117.6" x2="234.5" y2="126.4" stroke="#000" stroke-width="1.7"/>
<line x1="228.8" y1="117.6" x2="240.2" y2="117.6" stroke="#000" stroke-width="2"/>
<rect x="228.75" y="126.40" width="11.50" height="45.10" fill="#000" stroke="#000" stroke-width="1.5"/>
<rect x="258.75" y="170.00" width="11.20" height="1.50" fill="#fff" stroke="#000" stroke-width="1.5"/>
<rect x="271.45" y="161.60" width="11.00" height="9.90" fill="#757575" stroke="#000" stroke-width="1.5"/>
<line x1="290.1" y1="54.4" x2="290.1" y2="62.2" stroke="#000" stroke-width="1.7"/>
<line x1="284.0" y1="54.4" x2="296.2" y2="54.4" stroke="#000" stroke-width="2"/>
<rect x="283.95" y="62.20" width="12.30" height="109.30" fill="#000" stroke="#000" stroke-width="1.5"/>
<line x1="320.3" y1="162.3" x2="320.3" y2="165.9" stroke="#000" stroke-width="1.7"/>
<line x1="314.8" y1="162.3" x2="325.8" y2="162.3" stroke="#000" stroke-width="2"/>
<rect x="314.75" y="165.90" width="11.10" height="5.60" fill="#fff" stroke="#000" stroke-width="1.5"/>
<line x1="333.05" y1="78.7" x2="333.05" y2="87" stroke="#000" stroke-width="1.7"/>
<line x1="327.40000000000003" y1="78.7" x2="338.7" y2="78.7" stroke="#000" stroke-width="2"/>
<rect x="327.35" y="87.00" width="11.40" height="84.50" fill="#757575" stroke="#000" stroke-width="1.5"/>
<line x1="346.05" y1="127.4" x2="346.05" y2="132.4" stroke="#000" stroke-width="1.7"/>
<line x1="340.3" y1="127.4" x2="351.8" y2="127.4" stroke="#000" stroke-width="2"/>
<rect x="340.25" y="132.40" width="11.60" height="39.10" fill="#000" stroke="#000" stroke-width="1.5"/>
<line x1="194.4" y1="224.9" x2="194.4" y2="356.0" stroke="#000" stroke-width="1.7"/>
<line x1="193.6" y1="355.2" x2="362" y2="355.2" stroke="#000" stroke-width="1.7"/>
<line x1="189.9" y1="224.9" x2="194.4" y2="224.9" stroke="#000" stroke-width="1.6"/>
<text class="ns" x="187.55" y="230.10" font-size="13.5" text-anchor="end">100</text>
<line x1="189.9" y1="258" x2="194.4" y2="258" stroke="#000" stroke-width="1.6"/>
<text class="ns" x="187.55" y="263.20" font-size="13.5" text-anchor="end">75</text>
<line x1="189.9" y1="290.5" x2="194.4" y2="290.5" stroke="#000" stroke-width="1.6"/>
<text class="ns" x="187.55" y="295.70" font-size="13.5" text-anchor="end">50</text>
<line x1="189.9" y1="322.9" x2="194.4" y2="322.9" stroke="#000" stroke-width="1.6"/>
<text class="ns" x="187.55" y="328.10" font-size="13.5" text-anchor="end">25</text>
<line x1="189.9" y1="355.2" x2="194.4" y2="355.2" stroke="#000" stroke-width="1.6"/>
<text class="ns" x="187.55" y="360.55" font-size="13.5" text-anchor="end">0</text>
<line x1="210.0" y1="288.6" x2="210.0" y2="309" stroke="#000" stroke-width="1.7"/>
<line x1="204.8" y1="288.6" x2="215.2" y2="288.6" stroke="#000" stroke-width="2"/>
<rect x="204.75" y="309.00" width="10.50" height="46.20" fill="#fff" stroke="#000" stroke-width="1.5"/>
<line x1="221.9" y1="343" x2="221.9" y2="348.3" stroke="#000" stroke-width="1.7"/>
<line x1="216.8" y1="343" x2="227.0" y2="343" stroke="#000" stroke-width="2"/>
<rect x="216.75" y="348.30" width="10.30" height="6.90" fill="#757575" stroke="#000" stroke-width="1.5"/>
<line x1="234.60000000000002" y1="296.4" x2="234.60000000000002" y2="314" stroke="#000" stroke-width="1.7"/>
<line x1="228.60000000000002" y1="296.4" x2="240.6" y2="296.4" stroke="#000" stroke-width="2"/>
<rect x="228.55" y="314.00" width="12.10" height="41.20" fill="#000" stroke="#000" stroke-width="1.5"/>
<rect x="259.55" y="351.50" width="10.90" height="3.70" fill="#fff" stroke="#000" stroke-width="1.5"/>
<line x1="277.1" y1="339.2" x2="277.1" y2="342" stroke="#000" stroke-width="1.7"/>
<line x1="272.0" y1="339.2" x2="282.2" y2="339.2" stroke="#000" stroke-width="2"/>
<rect x="271.95" y="342.00" width="10.30" height="13.20" fill="#757575" stroke="#000" stroke-width="1.5"/>
<line x1="289.9" y1="249.2" x2="289.9" y2="260.3" stroke="#000" stroke-width="1.7"/>
<line x1="283.8" y1="249.2" x2="296.0" y2="249.2" stroke="#000" stroke-width="2"/>
<rect x="283.75" y="260.30" width="12.30" height="94.90" fill="#000" stroke="#000" stroke-width="1.5"/>
<rect x="314.95" y="348.50" width="11.20" height="6.70" fill="#fff" stroke="#000" stroke-width="1.5"/>
<line x1="333.2" y1="262.6" x2="333.2" y2="270.7" stroke="#000" stroke-width="1.7"/>
<line x1="327.7" y1="262.6" x2="338.7" y2="262.6" stroke="#000" stroke-width="2"/>
<rect x="327.65" y="270.70" width="11.10" height="84.50" fill="#757575" stroke="#000" stroke-width="1.5"/>
<line x1="345.75" y1="312.7" x2="345.75" y2="320" stroke="#000" stroke-width="1.7"/>
<line x1="340.3" y1="312.7" x2="351.2" y2="312.7" stroke="#000" stroke-width="2"/>
<rect x="340.25" y="320.00" width="11.00" height="35.20" fill="#000" stroke="#000" stroke-width="1.5"/>
<line x1="194.8" y1="450.4" x2="194.8" y2="581.0999999999999" stroke="#000" stroke-width="1.7"/>
<line x1="194.0" y1="580.3" x2="362.6" y2="580.3" stroke="#000" stroke-width="1.7"/>
<line x1="190.3" y1="450.4" x2="194.8" y2="450.4" stroke="#000" stroke-width="1.6"/>
<text class="ns" x="189.25" y="455.60" font-size="13.5" text-anchor="end">100</text>
<line x1="190.3" y1="483.2" x2="194.8" y2="483.2" stroke="#000" stroke-width="1.6"/>
<text class="ns" x="189.25" y="488.40" font-size="13.5" text-anchor="end">75</text>
<line x1="190.3" y1="516" x2="194.8" y2="516" stroke="#000" stroke-width="1.6"/>
<text class="ns" x="189.25" y="521.20" font-size="13.5" text-anchor="end">50</text>
<line x1="190.3" y1="548.2" x2="194.8" y2="548.2" stroke="#000" stroke-width="1.6"/>
<text class="ns" x="189.25" y="553.40" font-size="13.5" text-anchor="end">25</text>
<line x1="190.3" y1="580.3" x2="194.8" y2="580.3" stroke="#000" stroke-width="1.6"/>
<text class="ns" x="189.25" y="585.90" font-size="13.5" text-anchor="end">0</text>
<line x1="210.3" y1="492.8" x2="210.3" y2="507.3" stroke="#000" stroke-width="1.7"/>
<line x1="204.8" y1="492.8" x2="215.79999999999998" y2="492.8" stroke="#000" stroke-width="2"/>
<rect x="204.75" y="507.30" width="11.10" height="73.00" fill="#fff" stroke="#000" stroke-width="1.5"/>
<line x1="222.45" y1="563.6" x2="222.45" y2="571.5" stroke="#000" stroke-width="1.7"/>
<line x1="217.4" y1="563.6" x2="227.5" y2="563.6" stroke="#000" stroke-width="2"/>
<rect x="217.35" y="571.50" width="10.20" height="8.80" fill="#757575" stroke="#000" stroke-width="1.5"/>
<line x1="235.15" y1="525.5" x2="235.15" y2="539.3" stroke="#000" stroke-width="1.7"/>
<line x1="229.10000000000002" y1="525.5" x2="241.2" y2="525.5" stroke="#000" stroke-width="2"/>
<rect x="229.05" y="539.30" width="12.20" height="41.00" fill="#000" stroke="#000" stroke-width="1.5"/>
<line x1="265.79999999999995" y1="518" x2="265.79999999999995" y2="526" stroke="#000" stroke-width="1.7"/>
<line x1="260.0" y1="518" x2="271.59999999999997" y2="518" stroke="#000" stroke-width="2"/>
<rect x="259.95" y="526.00" width="11.70" height="54.30" fill="#fff" stroke="#000" stroke-width="1.5"/>
<line x1="278.7" y1="519" x2="278.7" y2="529.5" stroke="#000" stroke-width="1.7"/>
<line x1="273.2" y1="519" x2="284.2" y2="519" stroke="#000" stroke-width="2"/>
<rect x="273.15" y="529.50" width="11.10" height="50.80" fill="#757575" stroke="#000" stroke-width="1.5"/>
<line x1="291.4" y1="558.4" x2="291.4" y2="568" stroke="#000" stroke-width="1.7"/>
<line x1="285.8" y1="558.4" x2="297.0" y2="558.4" stroke="#000" stroke-width="2"/>
<rect x="285.75" y="568.00" width="11.30" height="12.30" fill="#000" stroke="#000" stroke-width="1.5"/>
<line x1="321.9" y1="460" x2="321.9" y2="463.5" stroke="#000" stroke-width="1.7"/>
<line x1="316.1" y1="460" x2="327.7" y2="460" stroke="#000" stroke-width="2"/>
<rect x="316.05" y="463.50" width="11.70" height="116.80" fill="#fff" stroke="#000" stroke-width="1.5"/>
<line x1="334.5" y1="573.4" x2="334.5" y2="577.3" stroke="#000" stroke-width="1.7"/>
<line x1="329.3" y1="573.4" x2="339.7" y2="573.4" stroke="#000" stroke-width="2"/>
<rect x="329.25" y="577.30" width="10.50" height="3.00" fill="#757575" stroke="#000" stroke-width="1.5"/>
<rect x="341.25" y="579.50" width="11.00" height="0.80" fill="#000" stroke="#000" stroke-width="1.5"/>
<line x1="194.6" y1="634" x2="194.6" y2="764.8" stroke="#000" stroke-width="1.7"/>
<line x1="193.79999999999998" y1="764" x2="362.6" y2="764" stroke="#000" stroke-width="1.7"/>
<line x1="190.1" y1="634" x2="194.6" y2="634" stroke="#000" stroke-width="1.6"/>
<text class="ns" x="188.85" y="639.20" font-size="13.5" text-anchor="end">100</text>
<line x1="190.1" y1="666.9" x2="194.6" y2="666.9" stroke="#000" stroke-width="1.6"/>
<text class="ns" x="188.85" y="672.10" font-size="13.5" text-anchor="end">75</text>
<line x1="190.1" y1="699.2" x2="194.6" y2="699.2" stroke="#000" stroke-width="1.6"/>
<text class="ns" x="188.85" y="704.40" font-size="13.5" text-anchor="end">50</text>
<line x1="190.1" y1="731.7" x2="194.6" y2="731.7" stroke="#000" stroke-width="1.6"/>
<text class="ns" x="188.85" y="736.90" font-size="13.5" text-anchor="end">25</text>
<line x1="190.1" y1="764" x2="194.6" y2="764" stroke="#000" stroke-width="1.6"/>
<text class="ns" x="188.85" y="769.15" font-size="13.5" text-anchor="end">0</text>
<line x1="210.25" y1="676.9" x2="210.25" y2="699.6" stroke="#000" stroke-width="1.7"/>
<line x1="205.0" y1="676.9" x2="215.5" y2="676.9" stroke="#000" stroke-width="2"/>
<rect x="204.95" y="699.60" width="10.60" height="64.40" fill="#fff" stroke="#000" stroke-width="1.5"/>
<line x1="222.2" y1="745.3" x2="222.2" y2="752.9" stroke="#000" stroke-width="1.7"/>
<line x1="217.10000000000002" y1="745.3" x2="227.29999999999998" y2="745.3" stroke="#000" stroke-width="2"/>
<rect x="217.05" y="752.90" width="10.30" height="11.10" fill="#757575" stroke="#000" stroke-width="1.5"/>
<line x1="234.89999999999998" y1="688.1" x2="234.89999999999998" y2="714.5" stroke="#000" stroke-width="1.7"/>
<line x1="228.9" y1="688.1" x2="240.89999999999998" y2="688.1" stroke="#000" stroke-width="2"/>
<rect x="228.85" y="714.50" width="12.10" height="49.50" fill="#000" stroke="#000" stroke-width="1.5"/>
<line x1="265.79999999999995" y1="709.5" x2="265.79999999999995" y2="713.5" stroke="#000" stroke-width="1.7"/>
<line x1="260.0" y1="709.5" x2="271.59999999999997" y2="709.5" stroke="#000" stroke-width="2"/>
<rect x="259.95" y="713.50" width="11.70" height="50.50" fill="#fff" stroke="#000" stroke-width="1.5"/>
<line x1="278.7" y1="721.5" x2="278.7" y2="726.9" stroke="#000" stroke-width="1.7"/>
<line x1="273.2" y1="721.5" x2="284.2" y2="721.5" stroke="#000" stroke-width="2"/>
<rect x="273.15" y="726.90" width="11.10" height="37.10" fill="#757575" stroke="#000" stroke-width="1.5"/>
<rect x="285.75" y="751.00" width="11.30" height="13.00" fill="#000" stroke="#000" stroke-width="1.5"/>
<line x1="321.9" y1="643" x2="321.9" y2="645.8" stroke="#000" stroke-width="1.7"/>
<line x1="316.1" y1="643" x2="327.7" y2="643" stroke="#000" stroke-width="2"/>
<rect x="316.05" y="645.80" width="11.70" height="118.20" fill="#fff" stroke="#000" stroke-width="1.5"/>
<rect x="329.25" y="759.60" width="10.00" height="4.40" fill="#757575" stroke="#000" stroke-width="1.5"/>
<rect x="340.75" y="758.50" width="11.70" height="5.50" fill="#000" stroke="#000" stroke-width="1.5"/>
<polygon points="283.50,44.85 284.12,46.45 285.83,46.54 284.50,47.62 284.94,49.28 283.50,48.35 282.06,49.28 282.50,47.62 281.17,46.54 282.88,46.45" fill="#000" stroke="#000" stroke-width="0.4" stroke-linejoin="round"/>
<polygon points="289.90,44.85 290.52,46.45 292.23,46.54 290.90,47.62 291.34,49.28 289.90,48.35 288.46,49.28 288.90,47.62 287.57,46.54 289.28,46.45" fill="#000" stroke="#000" stroke-width="0.4" stroke-linejoin="round"/>
<polygon points="296.30,44.85 296.92,46.45 298.63,46.54 297.30,47.62 297.74,49.28 296.30,48.35 294.86,49.28 295.30,47.62 293.97,46.54 295.68,46.45" fill="#000" stroke="#000" stroke-width="0.4" stroke-linejoin="round"/>
<polygon points="329.70,68.05 330.32,69.65 332.03,69.74 330.70,70.82 331.14,72.48 329.70,71.55 328.26,72.48 328.70,70.82 327.37,69.74 329.08,69.65" fill="#000" stroke="#000" stroke-width="0.4" stroke-linejoin="round"/>
<polygon points="336.10,68.05 336.72,69.65 338.43,69.74 337.10,70.82 337.54,72.48 336.10,71.55 334.66,72.48 335.10,70.82 333.77,69.74 335.48,69.65" fill="#000" stroke="#000" stroke-width="0.4" stroke-linejoin="round"/>
<polygon points="287.00,239.85 287.62,241.45 289.33,241.54 288.00,242.62 288.44,244.28 287.00,243.35 285.56,244.28 286.00,242.62 284.67,241.54 286.38,241.45" fill="#000" stroke="#000" stroke-width="0.4" stroke-linejoin="round"/>
<polygon points="293.40,239.85 294.02,241.45 295.73,241.54 294.40,242.62 294.84,244.28 293.40,243.35 291.96,244.28 292.40,242.62 291.07,241.54 292.78,241.45" fill="#000" stroke="#000" stroke-width="0.4" stroke-linejoin="round"/>
<polygon points="329.80,254.05 330.42,255.65 332.13,255.74 330.80,256.82 331.24,258.48 329.80,257.55 328.36,258.48 328.80,256.82 327.47,255.74 329.18,255.65" fill="#000" stroke="#000" stroke-width="0.4" stroke-linejoin="round"/>
<polygon points="336.20,254.05 336.82,255.65 338.53,255.74 337.20,256.82 337.64,258.48 336.20,257.55 334.76,258.48 335.20,256.82 333.87,255.74 335.58,255.65" fill="#000" stroke="#000" stroke-width="0.4" stroke-linejoin="round"/>
<polygon points="275.40,508.05 276.02,509.65 277.73,509.74 276.40,510.82 276.84,512.48 275.40,511.55 273.96,512.48 274.40,510.82 273.07,509.74 274.78,509.65" fill="#000" stroke="#000" stroke-width="0.4" stroke-linejoin="round"/>
<polygon points="281.80,508.05 282.42,509.65 284.13,509.74 282.80,510.82 283.24,512.48 281.80,511.55 280.36,512.48 280.80,510.82 279.47,509.74 281.18,509.65" fill="#000" stroke="#000" stroke-width="0.4" stroke-linejoin="round"/>
<polygon points="318.30,449.05 318.92,450.65 320.63,450.74 319.30,451.82 319.74,453.48 318.30,452.55 316.86,453.48 317.30,451.82 315.97,450.74 317.68,450.65" fill="#000" stroke="#000" stroke-width="0.4" stroke-linejoin="round"/>
<polygon points="324.70,449.05 325.32,450.65 327.03,450.74 325.70,451.82 326.14,453.48 324.70,452.55 323.26,453.48 323.70,451.82 322.37,450.74 324.08,450.65" fill="#000" stroke="#000" stroke-width="0.4" stroke-linejoin="round"/>
<polygon points="321.80,633.75 322.42,635.35 324.13,635.44 322.80,636.52 323.24,638.18 321.80,637.25 320.36,638.18 320.80,636.52 319.47,635.44 321.18,635.35" fill="#000" stroke="#000" stroke-width="0.4" stroke-linejoin="round"/>
<rect x="361.90" y="41.90" width="157.10" height="64.10" fill="#fff" stroke="#000" stroke-width="1.7"/>
<rect x="367.95" y="49.35" width="9.40" height="9.50" fill="#fff" stroke="#000" stroke-width="1.5"/>
<rect x="367.95" y="68.55" width="9.40" height="9.50" fill="#757575" stroke="#000" stroke-width="1.5"/>
<rect x="367.95" y="87.75" width="9.40" height="9.50" fill="#000" stroke="#000" stroke-width="1.5"/>
<rect x="359.80" y="450.60" width="129.80" height="64.10" fill="#fff" stroke="#000" stroke-width="1.7"/>
<rect x="365.45" y="457.45" width="9.40" height="9.50" fill="#fff" stroke="#000" stroke-width="1.5"/>
<rect x="365.45" y="477.15" width="9.40" height="9.50" fill="#757575" stroke="#000" stroke-width="1.5"/>
<rect x="365.45" y="496.35" width="9.40" height="9.50" fill="#000" stroke="#000" stroke-width="1.5"/>
<text transform="translate(71.23 36.60) scale(1.0226 1)" font-size="15.20" text-anchor="middle" font-weight="normal">PBL</text>
<text transform="translate(72.77 153.36) scale(1.0690 1)" font-size="15.20" text-anchor="middle" font-weight="normal">aCD3-<tspan font-style="italic">TK</tspan><tspan font-size="11" dx="2.2" dy="-3.2">+</tspan></text>
<text transform="translate(69.29 259.56) scale(0.9965 1)" font-size="15.20" text-anchor="middle" font-weight="normal">baCD3/</text>
<text transform="translate(69.93 272.18) scale(1.0201 1)" font-size="15.20" text-anchor="middle" font-weight="normal">CD28-<tspan font-style="italic">TK</tspan><tspan font-size="11" dx="2.2" dy="-3.2">+</tspan></text>
<text transform="translate(73.17 445.80) scale(1.0371 1)" font-size="15.20" text-anchor="middle" font-weight="normal">PBL</text>
<text transform="translate(70.01 563.78) scale(1.0467 1)" font-size="15.20" text-anchor="middle" font-weight="normal">aCD3-<tspan font-style="italic">TK</tspan><tspan font-size="11" dx="2.2" dy="-3.2">+</tspan></text>
<text transform="translate(70.28 669.60) scale(1.0451 1)" font-size="15.20" text-anchor="middle" font-weight="normal">baCD3/</text>
<text transform="translate(70.77 681.34) scale(1.0490 1)" font-size="15.20" text-anchor="middle" font-weight="normal">CD28-<tspan font-style="italic">TK</tspan><tspan font-size="11" dx="2.2" dy="-3.2">+</tspan></text>
<text transform="translate(89.45 372.46) scale(0.9795 1)" font-size="16.00" text-anchor="middle" font-weight="normal">CD45RA</text>
<text transform="translate(101.33 782.60) scale(1.0039 1)" font-size="16.00" text-anchor="middle" font-weight="normal">CD27</text>
<text transform="translate(14.87 60.20) rotate(-90) scale(0.9737 1)" font-size="16.00" text-anchor="middle" font-weight="normal">CCR7</text>
<text transform="translate(15.04 468.61) rotate(-90) scale(0.9964 1)" font-size="16.00" text-anchor="middle" font-weight="normal">CD28</text>
<text transform="translate(160.12 92.31) rotate(-90) scale(1.0459 1)" font-size="15.30" text-anchor="middle" font-weight="normal">distribution (% of CD4<tspan font-size="11" dx="0.6" dy="-4.3">+</tspan><tspan dx="0.6" dy="4.3">)</tspan></text>
<text transform="translate(160.60 291.27) rotate(-90) scale(1.0412 1)" font-size="15.30" text-anchor="middle" font-weight="normal">distribution (% of CD8<tspan font-size="11" dx="0.6" dy="-4.3">+</tspan><tspan dx="0.6" dy="4.3">)</tspan></text>
<text transform="translate(160.19 513.57) rotate(-90) scale(1.0441 1)" font-size="15.30" text-anchor="middle" font-weight="normal">distribution (% of CD4<tspan font-size="11" dx="0.6" dy="-4.3">+</tspan><tspan dx="0.6" dy="4.3">)</tspan></text>
<text transform="translate(160.13 697.79) rotate(-90) scale(1.0431 1)" font-size="15.30" text-anchor="middle" font-weight="normal">distribution (% of CD8<tspan font-size="11" dx="0.6" dy="-4.3">+</tspan><tspan dx="0.6" dy="4.3">)</tspan></text>
<text transform="translate(221.13 191.78) scale(1.0362 1)" font-size="15.20" text-anchor="middle" font-weight="normal">PBL</text>
<text transform="translate(274.58 191.56) scale(1.0962 1)" font-size="15.20" text-anchor="middle" font-weight="normal">aCD3-</text>
<text transform="translate(273.60 204.90) scale(0.9298 1)" font-size="15.20" text-anchor="middle" font-weight="normal"><tspan font-style="italic">TK</tspan><tspan font-size="11" dx="2.6" dy="-2.6">+</tspan></text>
<text transform="translate(344.52 191.80) scale(1.0294 1)" font-size="15.20" text-anchor="middle" font-weight="normal">baCD3/</text>
<text transform="translate(350.49 205.14) scale(1.0529 1)" font-size="15.20" text-anchor="middle" font-weight="normal">CD28-<tspan font-style="italic">TK</tspan><tspan font-size="11" dx="2.2" dy="-3.2">+</tspan></text>
<text transform="translate(221.56 375.84) scale(1.0007 1)" font-size="15.20" text-anchor="middle" font-weight="normal">PBL</text>
<text transform="translate(275.46 375.64) scale(1.0541 1)" font-size="15.20" text-anchor="middle" font-weight="normal">aCD3-</text>
<text transform="translate(273.91 388.54) scale(0.9781 1)" font-size="15.20" text-anchor="middle" font-weight="normal"><tspan font-style="italic">TK</tspan><tspan font-size="11" dx="2.6" dy="-2.6">+</tspan></text>
<text transform="translate(337.67 375.60) scale(1.0619 1)" font-size="15.20" text-anchor="middle" font-weight="normal">baCD3/</text>
<text transform="translate(343.52 388.96) scale(1.0412 1)" font-size="15.20" text-anchor="middle" font-weight="normal">CD28-<tspan font-style="italic">TK</tspan><tspan font-size="11" dx="2.2" dy="-3.2">+</tspan></text>
<text transform="translate(223.00 601.34) scale(1.0047 1)" font-size="15.20" text-anchor="middle" font-weight="normal">PBL</text>
<text transform="translate(275.26 600.94) scale(1.0415 1)" font-size="15.20" text-anchor="middle" font-weight="normal">aCD3-</text>
<text transform="translate(276.39 614.87) scale(1.0173 1)" font-size="15.20" text-anchor="middle" font-weight="normal"><tspan font-style="italic">TK</tspan><tspan font-size="11" dx="2.6" dy="-2.6">+</tspan></text>
<text transform="translate(335.58 600.64) scale(1.0458 1)" font-size="15.20" text-anchor="middle" font-weight="normal">baCD3/</text>
<text transform="translate(341.11 614.56) scale(1.0315 1)" font-size="15.20" text-anchor="middle" font-weight="normal">CD28-<tspan font-style="italic">TK</tspan><tspan font-size="11" dx="2.2" dy="-3.2">+</tspan></text>
<text transform="translate(223.22 785.94) scale(1.0226 1)" font-size="15.20" text-anchor="middle" font-weight="normal">PBL</text>
<text transform="translate(277.16 786.34) scale(1.0456 1)" font-size="15.20" text-anchor="middle" font-weight="normal">aCD3-</text>
<text transform="translate(276.11 799.22) scale(1.0357 1)" font-size="15.20" text-anchor="middle" font-weight="normal"><tspan font-style="italic">TK</tspan><tspan font-size="11" dx="2.6" dy="-2.6">+</tspan></text>
<text transform="translate(339.89 785.44) scale(1.0570 1)" font-size="15.20" text-anchor="middle" font-weight="normal">baCD3/</text>
<text transform="translate(345.82 799.10) scale(1.0333 1)" font-size="15.20" text-anchor="middle" font-weight="normal">CD28-<tspan font-style="italic">TK</tspan><tspan font-size="11" dx="2.2" dy="-3.2">+</tspan></text>
<text class="ns" transform="translate(442.11 60.08) scale(0.9979 1)" font-size="16.00" text-anchor="middle" font-weight="normal">CD45RA<tspan font-size="11.5" dx="0.2" dy="-4.0">+</tspan><tspan dy="4.0" dx="0">CCR7</tspan><tspan font-size="11.5" dx="0.2" dy="-4.0">+</tspan></text>
<text class="ns" transform="translate(439.83 78.46) scale(0.9784 1)" font-size="16.00" text-anchor="middle" font-weight="normal">CD45RA<tspan font-size="11.5" dx="0.2" dy="-5.3">-</tspan><tspan dy="5.3" dx="0">CCR7</tspan><tspan font-size="11.5" dx="0.2" dy="-4.0">+</tspan></text>
<text class="ns" transform="translate(439.05 98.08) scale(0.9925 1)" font-size="16.00" text-anchor="middle" font-weight="normal">CD45RA<tspan font-size="11.5" dx="0.2" dy="-5.3">-</tspan><tspan dy="5.3" dx="0">CCR7</tspan><tspan font-size="11.5" dx="0.2" dy="-5.3">-</tspan></text>
<text class="ns" transform="translate(427.95 468.22) scale(0.9850 1)" font-size="16.00" text-anchor="middle" font-weight="normal">CD28<tspan font-size="11.5" dx="0.2" dy="-4.0">+</tspan><tspan dy="4.0" dx="0">CD27</tspan><tspan font-size="11.5" dx="0.2" dy="-4.0">+</tspan></text>
<text class="ns" transform="translate(426.93 487.22) scale(0.9903 1)" font-size="16.00" text-anchor="middle" font-weight="normal">CD28<tspan font-size="11.5" dx="0.2" dy="-5.3">-</tspan><tspan dy="5.3" dx="0">CD27</tspan><tspan font-size="11.5" dx="0.2" dy="-4.0">+</tspan></text>
<text class="ns" transform="translate(424.78 506.22) scale(0.9744 1)" font-size="16.00" text-anchor="middle" font-weight="normal">CD28<tspan font-size="11.5" dx="0.2" dy="-5.3">-</tspan><tspan dy="5.3" dx="0">CD27</tspan><tspan font-size="11.5" dx="0.2" dy="-5.3">-</tspan></text>
<text class="ns" transform="translate(91.85 56.30) scale(1.0000 1)" font-size="14.30" text-anchor="middle" font-weight="normal">14</text>
<text class="ns" transform="translate(110.35 56.50) scale(1.0000 1)" font-size="14.30" text-anchor="middle" font-weight="normal">37</text>
<text class="ns" transform="translate(91.80 72.60) scale(1.0000 1)" font-size="14.30" text-anchor="middle" font-weight="normal">21</text>
<text class="ns" transform="translate(110.45 72.60) scale(1.0000 1)" font-size="14.30" text-anchor="middle" font-weight="normal">28</text>
<text class="ns" transform="translate(93.70 173.30) scale(1.0000 1)" font-size="14.30" text-anchor="middle" font-weight="normal">4</text>
<text class="ns" transform="translate(110.45 173.30) scale(1.0000 1)" font-size="14.30" text-anchor="middle" font-weight="normal">0</text>
<text class="ns" transform="translate(92.50 189.40) scale(1.0000 1)" font-size="14.30" text-anchor="middle" font-weight="normal">86</text>
<text class="ns" transform="translate(111.70 189.40) scale(1.0000 1)" font-size="14.30" text-anchor="middle" font-weight="normal">10</text>
<text class="ns" transform="translate(92.00 291.30) scale(1.0000 1)" font-size="14.30" text-anchor="middle" font-weight="normal">69</text>
<text class="ns" transform="translate(110.15 291.30) scale(1.0000 1)" font-size="14.30" text-anchor="middle" font-weight="normal">4</text>
<text class="ns" transform="translate(92.30 308.00) scale(1.0000 1)" font-size="14.30" text-anchor="middle" font-weight="normal">27</text>
<text class="ns" transform="translate(110.35 308.00) scale(1.0000 1)" font-size="14.30" text-anchor="middle" font-weight="normal">0</text>
<text class="ns" transform="translate(93.10 464.50) scale(1.0000 1)" font-size="14.30" text-anchor="middle" font-weight="normal">4</text>
<text class="ns" transform="translate(111.10 464.50) scale(1.0000 1)" font-size="14.30" text-anchor="middle" font-weight="normal">68</text>
<text class="ns" transform="translate(92.25 481.20) scale(1.0000 1)" font-size="14.30" text-anchor="middle" font-weight="normal">19</text>
<text class="ns" transform="translate(109.80 481.20) scale(1.0000 1)" font-size="14.30" text-anchor="middle" font-weight="normal">9</text>
<text class="ns" transform="translate(93.55 580.80) scale(1.0000 1)" font-size="14.30" text-anchor="middle" font-weight="normal">7</text>
<text class="ns" transform="translate(111.70 580.80) scale(1.0000 1)" font-size="14.30" text-anchor="middle" font-weight="normal">38</text>
<text class="ns" transform="translate(92.05 599.40) scale(1.0000 1)" font-size="14.30" text-anchor="middle" font-weight="normal">16</text>
<text class="ns" transform="translate(111.50 599.40) scale(1.0000 1)" font-size="14.30" text-anchor="middle" font-weight="normal">39</text>
<text class="ns" transform="translate(94.20 701.90) scale(1.0000 1)" font-size="14.30" text-anchor="middle" font-weight="normal">5</text>
<text class="ns" transform="translate(112.00 701.90) scale(1.0000 1)" font-size="14.30" text-anchor="middle" font-weight="normal">93</text>
<text class="ns" transform="translate(94.70 718.70) scale(1.0000 1)" font-size="14.30" text-anchor="middle" font-weight="normal">0</text>
<text class="ns" transform="translate(110.55 718.70) scale(1.0000 1)" font-size="14.30" text-anchor="middle" font-weight="normal">2</text>
</svg>
</body></html>
